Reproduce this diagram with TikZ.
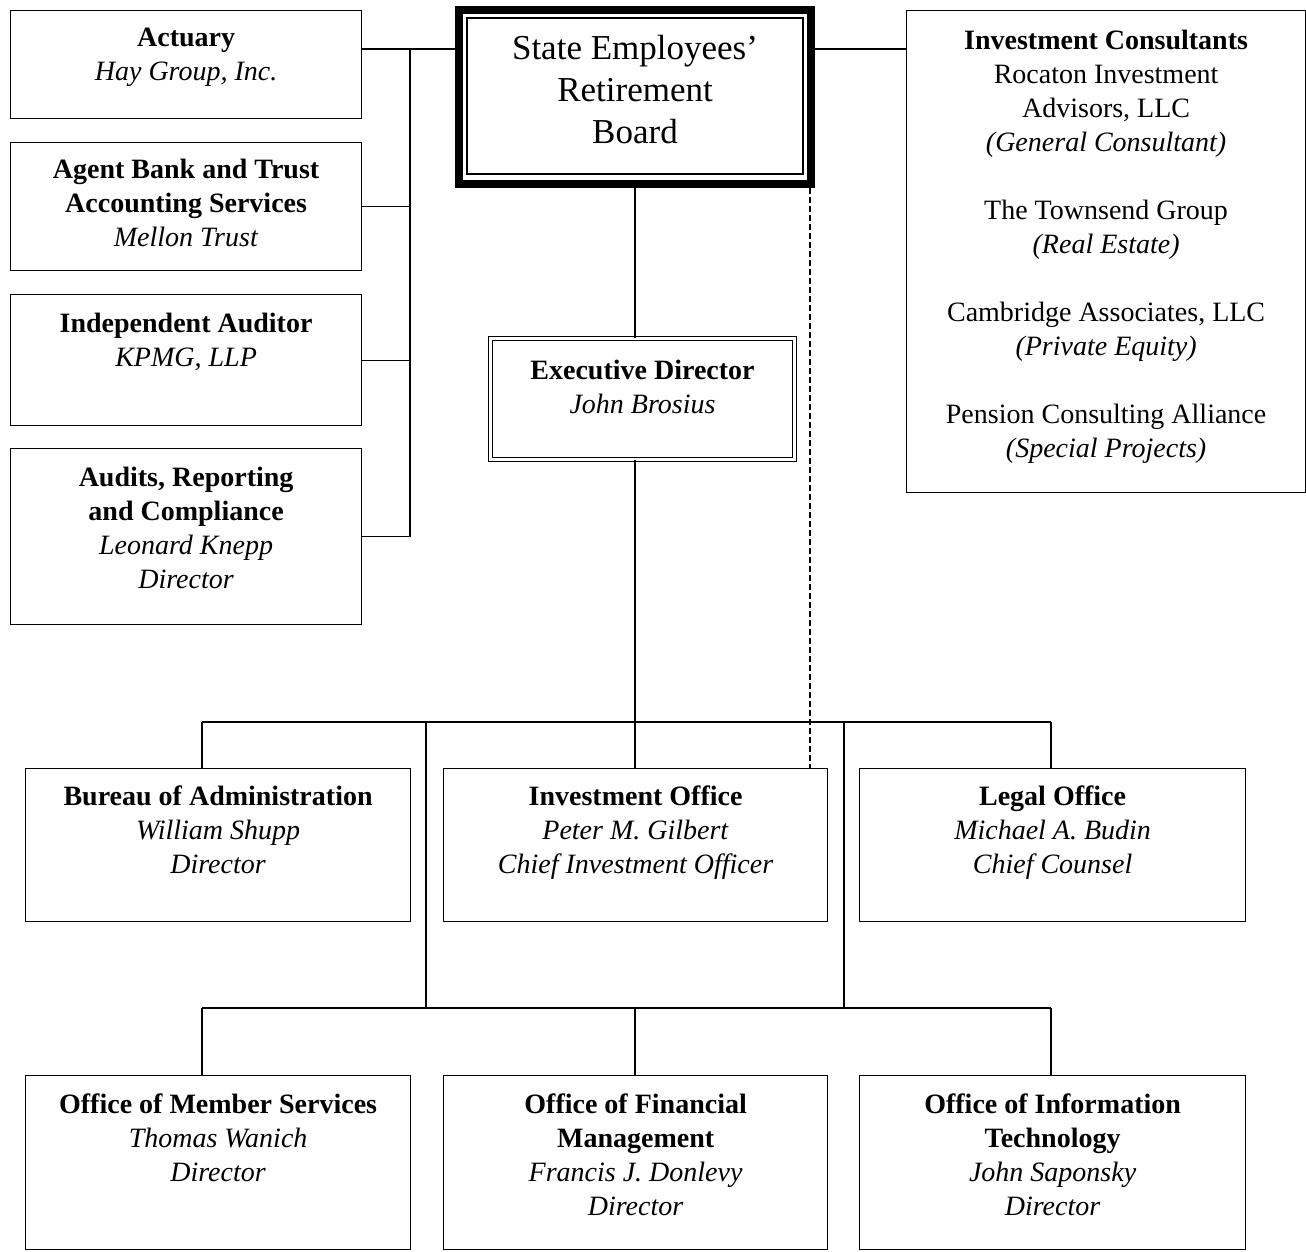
\documentclass[tikz,border=0pt]{standalone}
\usepackage{fontspec}
\setmainfont{Liberation Serif}
\usetikzlibrary{positioning}
\tikzset{unit/.style={draw, line width=1.2pt, inner sep=0pt, anchor=north west},
  caption/.style={font=\fontsize{28}{34}\selectfont, align=center, inner sep=0pt, execute at begin node=\strut},
  link/.style={line width=1.2pt}}

\begin{document}
\begin{tikzpicture}[x=1pt, y=-1pt]
\useasboundingbox (0,0) rectangle (1306,1251);

% board and director
\node[draw, line width=8pt, inner sep=0pt, minimum width=352pt, minimum height=174pt] (board) at (635,97) {};
\draw[line width=1.5pt] ([xshift=12pt,yshift=-12pt]board.north west) rectangle ([xshift=-12pt,yshift=14pt]board.south east);
\node[caption, font=\fontsize{35}{42}\selectfont, below=29pt of board.north] (board text) {State Employees'\\Retirement\\Board};
\node[draw, double, double distance=2.5pt, line width=1.2pt, inner sep=0pt, minimum width=304pt, minimum height=121pt] (exec) at (642.5,399) {};
\node[caption, below=22pt of exec.north] (exec text) {\textbf{Executive Director}\\\textit{John Brosius}};

% left column
\node[unit, minimum width=351pt, minimum height=108pt] (actuary) at (10,10) {};
\node[unit, minimum width=351pt, minimum height=128pt] (agent) at (10,142) {};
\node[unit, minimum width=351pt, minimum height=131pt] (auditor) at (10,294) {};
\node[unit, minimum width=351pt, minimum height=176pt] (audits) at (10,448) {};
\node[caption, below=18pt of actuary.north] (actuary text) {\textbf{Actuary}\\\textit{Hay Group, Inc.}};
\node[caption, below=17pt of agent.north] (agent text) {\textbf{Agent Bank and Trust}\\\textbf{Accounting Services}\\\textit{Mellon Trust}};
\node[caption, below=19pt of auditor.north] (auditor text) {\textbf{Independent Auditor}\\\textit{KPMG, LLP}};
\node[caption, below=19pt of audits.north] (audits text) {\textbf{Audits, Reporting}\\\textbf{and Compliance}\\\textit{Leonard Knepp}\\\textit{Director}};

% consultants
\node[unit, minimum width=399pt, minimum height=482pt] (consult) at (906,10) {};
\node[caption, below=20pt of consult.north] (consult text) {\textbf{Investment Consultants}\\Rocaton Investment\\Advisors, LLC\\\textit{(General Consultant)}\\[34pt]
  The Townsend Group\\\textit{(Real Estate)}\\[34pt]Cambridge Associates, LLC\\\textit{(Private Equity)}\\[34pt]
  Pension Consulting Alliance\\\textit{(Special Projects)}};

% offices
\node[unit, minimum width=385pt, minimum height=153pt] (bureau) at (25,768) {};
\node[unit, minimum width=384pt, minimum height=153pt] (invest) at (443,768) {};
\node[unit, minimum width=386pt, minimum height=153pt] (legal) at (859,768) {};
\node[unit, minimum width=385pt, minimum height=174pt] (member) at (25,1075) {};
\node[unit, minimum width=384pt, minimum height=174pt] (finance) at (443,1075) {};
\node[unit, minimum width=386pt, minimum height=174pt] (infotech) at (859,1075) {};
\node[caption, below=18pt of bureau.north] (bureau text) {\textbf{Bureau of Administration}\\\textit{William Shupp}\\\textit{Director}};
\node[caption, below=18pt of invest.north] (invest text) {\textbf{Investment Office}\\\textit{Peter M. Gilbert}\\\textit{Chief Investment Officer}};
\node[caption, below=18pt of legal.north] (legal text) {\textbf{Legal Office}\\\textit{Michael A. Budin}\\\textit{Chief Counsel}};
\node[caption, below=19pt of member.north] (member text) {\textbf{Office of Member Services}\\\textit{Thomas Wanich}\\\textit{Director}};
\node[caption, below=19pt of finance.north] (finance text) {\textbf{Office of Financial}\\\textbf{Management}\\\textit{Francis J. Donlevy}\\\textit{Director}};
\node[caption, below=19pt of infotech.north] (infotech text) {\textbf{Office of Information}\\\textbf{Technology}\\\textit{John Saponsky}\\\textit{Director}};

% connectors
\coordinate (spine) at (410,49);
\coordinate (bus left) at (202,722);
\coordinate (bus right) at (1051,722);
\coordinate (tap a) at (426,722);
\coordinate (tap b) at (844,722);
\coordinate (low bus) at (635,1008);
\coordinate (advisory) at ([xshift=-5pt]board.south east);
\draw[link] (actuary.east |- spine) -- (board.west |- spine);
\draw[link] (spine) -- (spine |- audits.east);
\foreach \n in {agent, auditor, audits}
  \draw[link] (\n.east) -- (\n.east -| spine);
\draw[link] (board.east |- spine) -- (consult.west |- spine);
\draw[link] (board.south) -- (board.south |- exec.north);
\draw[link] (board.south |- exec.south) -- (board.south |- bus left);
\draw[link] (bus left) -- (bus right);
\draw[link] (bus left) -- (bus left |- bureau.north);
\draw[link] (bus right) -- (bus right |- legal.north);
\draw[link] (board.south |- bus left) -- (board.south |- invest.north);
\draw[link] (tap a) -- (tap a |- low bus);
\draw[link] (tap b) -- (tap b |- low bus);
\draw[link] (bus left |- low bus) -- (bus right |- low bus);
\draw[link] (bus left |- low bus) -- (bus left |- member.north);
\draw[link] (low bus) -- (low bus |- finance.north);
\draw[link] (bus right |- low bus) -- (bus right |- infotech.north);
\draw[link, dash pattern=on 6pt off 3pt] (advisory) -- (advisory |- invest.north);
\end{tikzpicture}
\end{document}
